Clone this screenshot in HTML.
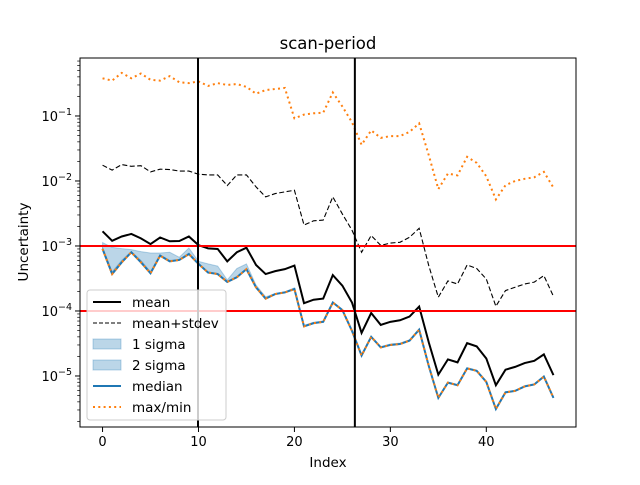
<!DOCTYPE html>
<html><head><meta charset="utf-8"><style>
html,body{margin:0;padding:0;background:#fff;}
svg text{font-family:"DejaVu Sans","Liberation Sans",sans-serif;}
</style></head><body>
<svg id="chart" width="640" height="480" viewBox="0 0 640 480" xmlns="http://www.w3.org/2000/svg">
<rect width="640" height="480" fill="#fff"/>
<text x="328" y="49" font-size="16.5" text-anchor="middle">scan-period</text>
<text x="328" y="467" font-size="13.5" text-anchor="middle">Index</text>
<text x="28" y="242" font-size="13.5" text-anchor="middle" transform="rotate(-90 28 242)">Uncertainty</text>
<g id="plot"></g>
</svg>
<script>
const indices = Array.from({length:48},(_,i)=>i);
const maxmin = [0.38,0.35,0.46,0.38,0.45,0.36,0.35,0.41,0.33,0.32,0.34,0.29,0.32,0.30,0.31,0.28,0.22,0.25,0.26,0.27,0.092,0.105,0.11,0.112,0.23,0.14,0.08,0.036,0.06,0.046,0.049,0.049,0.057,0.077,0.025,0.0075,0.013,0.0122,0.0235,0.019,0.0118,0.0052,0.0086,0.01,0.0108,0.0114,0.0138,0.0079];
const meanStd = [0.0175,0.0147,0.0179,0.0168,0.0172,0.0138,0.0152,0.015,0.0142,0.0142,0.0127,0.0124,0.0124,0.0085,0.0124,0.0124,0.0081,0.0057,0.0064,0.0068,0.0072,0.0021,0.00244,0.0025,0.0057,0.0031,0.00175,0.0008,0.00145,0.00102,0.00111,0.00114,0.00136,0.00187,0.0005,0.000163,0.00029,0.00026,0.00051,0.00045,0.00031,0.000118,0.000206,0.000232,0.00026,0.000278,0.00035,0.000168];
const meanVals = [0.00168,0.0012,0.0014,0.00153,0.00131,0.00107,0.00135,0.00118,0.00119,0.0014,0.00103,0.00092,0.0009,0.00058,0.0008,0.00094,0.00051,0.00037,0.00041,0.00044,0.0005,0.000132,0.000149,0.000155,0.000356,0.000245,0.000135,4.6e-5,9.3e-5,6.1e-5,6.8e-5,7.2e-5,8.2e-5,0.000117,3.3e-5,1.05e-5,1.8e-5,1.62e-5,3.2e-5,2.85e-5,1.86e-5,7.2e-6,1.25e-5,1.38e-5,1.58e-5,1.71e-5,2.15e-5,1.03e-5];
const medianVals = [0.0009,0.00037,0.00056,0.0008,0.00056,0.00038,0.00071,0.00058,0.00061,0.00075,0.00053,0.00039,0.00037,0.00028,0.00033,0.00044,0.00023,0.000155,0.000182,0.000193,0.000217,5.8e-5,6.5e-5,6.8e-5,0.000135,0.000103,4.95e-5,2.06e-5,4.0e-5,2.75e-5,3.0e-5,3.1e-5,3.5e-5,5.15e-5,1.43e-5,4.6e-6,7.9e-6,7.2e-6,1.31e-5,1.2e-5,8.1e-6,3.1e-6,5.6e-6,5.9e-6,6.9e-6,7.4e-6,9.8e-6,4.6e-6];
const sigma2Upper = [0.00113,0.00095,0.00091,0.00088,0.00082,0.00078,0.00078,0.0008,0.00067,0.00093,0.00058,0.00053,0.00049,0.0003,0.00045,0.00053,0.00025,0.000165,0.000186,0.000197,0.000227,6e-5,6.7e-5,7e-5,0.000139,0.000106,5.15e-5,2.16e-5,4.1e-5,2.83e-5,3.1e-5,3.2e-5,3.6e-5,5.35e-5,1.47e-5,4.7e-6,8.1e-6,7.4e-6,1.34e-5,1.23e-5,8.3e-6,3.2e-6,5.7e-6,6e-6,7.1e-6,7.6e-6,1.01e-5,4.7e-6];
const sigma1Upper = [0.00095,0.0004,0.0006,0.00082,0.0006,0.0004,0.00073,0.0006,0.00062,0.00078,0.00054,0.0004,0.00038,0.00028,0.00034,0.00045,0.000232,0.000157,0.000183,0.000194,0.00022,5.85e-5,6.55e-5,6.85e-5,0.000136,0.000104,5e-5,2.08e-5,4.03e-5,2.77e-5,3.03e-5,3.13e-5,3.53e-5,5.2e-5,1.44e-5,4.63e-6,7.95e-6,7.25e-6,1.32e-5,1.21e-5,8.15e-6,3.12e-6,5.62e-6,5.92e-6,6.95e-6,7.45e-6,9.85e-6,4.62e-6];
const xTicks = [0,10,20,30,40];
const yTickExps = [-5,-4,-3,-2,-1];
const hLines = [1e-3,1e-4];
const vLines = [9.95,26.3];

const L=80,R=576,T=58,B=427;
const xMin=-2.35,xMax=49.35;
const yMinLog=-5.785,yMaxLog=-5.785+(B-T)/65;
const X=v=>L+(v-xMin)/(xMax-xMin)*(R-L);
const Y=v=>B-(Math.log10(v)-yMinLog)/(yMaxLog-yMinLog)*(B-T);
const NS='http://www.w3.org/2000/svg';
const plot=document.getElementById('plot');
function mk(tag,attrs,parent){const e=document.createElementNS(NS,tag);for(const k in attrs)e.setAttribute(k,attrs[k]);(parent||plot).appendChild(e);return e;}
const defs=mk('defs',{});
const cp=mk('clipPath',{id:'clip'},defs);mk('rect',{x:L,y:T,width:R-L,height:B-T},cp);
const g=mk('g',{'clip-path':'url(#clip)'});


function pathOf(arr){return arr.map((v,i)=>(i?'L':'M')+X(indices[i]).toFixed(2)+','+Y(v).toFixed(2)).join('');}
function band(up,low){let d=pathOf(up);for(let i=low.length-1;i>=0;i--)d+='L'+X(indices[i]).toFixed(2)+','+Y(low[i]).toFixed(2);return d+'Z';}
const b1=mk('path',{d:band(sigma1Upper,medianVals),fill:'#1f77b4','fill-opacity':0.3,stroke:'#1f77b4','stroke-opacity':0.3},g);


const b2=mk('path',{d:band(sigma2Upper,medianVals),fill:'#1f77b4','fill-opacity':0.3,stroke:'#1f77b4','stroke-opacity':0.3},g);


const lMean=mk('path',{d:pathOf(meanVals),fill:'none',stroke:'#000','stroke-width':2},g);


const lStd=mk('path',{d:pathOf(meanStd),fill:'none',stroke:'#000','stroke-width':1.1,'stroke-dasharray':'5,2.5'},g);


const lMed=mk('path',{d:pathOf(medianVals),fill:'none',stroke:'#1f77b4','stroke-width':2},g);


const lMin=mk('path',{d:pathOf(medianVals),fill:'none',stroke:'#ff7f0e','stroke-width':2,'stroke-dasharray':'2,3.3'},g);


const lMax=mk('path',{d:pathOf(maxmin),fill:'none',stroke:'#ff7f0e','stroke-width':2,'stroke-dasharray':'2,3.3'},g);


hLines.forEach(v=>{const e=mk('line',{x1:L,x2:R,y1:Y(v),y2:Y(v),stroke:'#ff0000','stroke-width':2},g);

});
vLines.forEach(v=>{const e=mk('line',{x1:X(v),x2:X(v),y1:T,y2:B,stroke:'#000','stroke-width':2},g);

});
const fr=mk('rect',{x:L,y:T,width:R-L,height:B-T,fill:'none',stroke:'#000','stroke-width':1});


xTicks.forEach(t=>{const x=X(t);mk('line',{x1:x,x2:x,y1:B,y2:B+5,stroke:'#000'});
const tx=mk('text',{x:x,y:B+19,'font-size':13,'text-anchor':'middle'});tx.textContent=t;

});
for(let e=-6;e<=0;e++){for(let m=2;m<=9;m++){const v=m*Math.pow(10,e);const y=Y(v);if(y>T&&y<B)mk('line',{x1:L-2.8,x2:L,y1:y,y2:y,stroke:'#000','stroke-width':0.7});}}
yTickExps.forEach(ex=>{const y=Y(Math.pow(10,ex));mk('line',{x1:L-5,x2:L,y1:y,y2:y,stroke:'#000'});
const tx=mk('text',{x:L-8,y:y+5,'font-size':13,'text-anchor':'end'});


const a=document.createElementNS(NS,'tspan');a.textContent='10';tx.appendChild(a);
const s=document.createElementNS(NS,'tspan');s.setAttribute('dy','-6');s.setAttribute('font-size','9.5');s.textContent='\u2212'+Math.abs(ex);tx.appendChild(s);});
const lg=mk('g',{});


mk('rect',{x:87,y:290,width:139,height:130,rx:3,fill:'#fff','fill-opacity':0.8,stroke:'#cccccc'},lg);
const items=[['mean','solid'],['mean+stdev','dash'],['1 sigma','band'],['2 sigma','band'],['median','med'],['max/min','dot']];
items.forEach((it,i)=>{const y=302+i*21;
if(it[1]=='solid')mk('line',{x1:93,x2:121,y1:y,y2:y,stroke:'#000','stroke-width':2},lg);
if(it[1]=='dash')mk('line',{x1:93,x2:121,y1:y,y2:y,stroke:'#000','stroke-width':1.1,'stroke-dasharray':'4,2'},lg);
if(it[1]=='band')mk('rect',{x:93,y:y-5,width:28,height:10,fill:'#1f77b4','fill-opacity':0.3,stroke:'#1f77b4','stroke-opacity':0.3},lg);
if(it[1]=='med')mk('line',{x1:93,x2:121,y1:y,y2:y,stroke:'#1f77b4','stroke-width':2},lg);
if(it[1]=='dot')mk('line',{x1:93,x2:121,y1:y,y2:y,stroke:'#ff7f0e','stroke-width':2,'stroke-dasharray':'2,3.3'},lg);
const tx=mk('text',{x:132,y:y+5,'font-size':13.5},lg);tx.textContent=it[0];

});
</script>
</body></html>
